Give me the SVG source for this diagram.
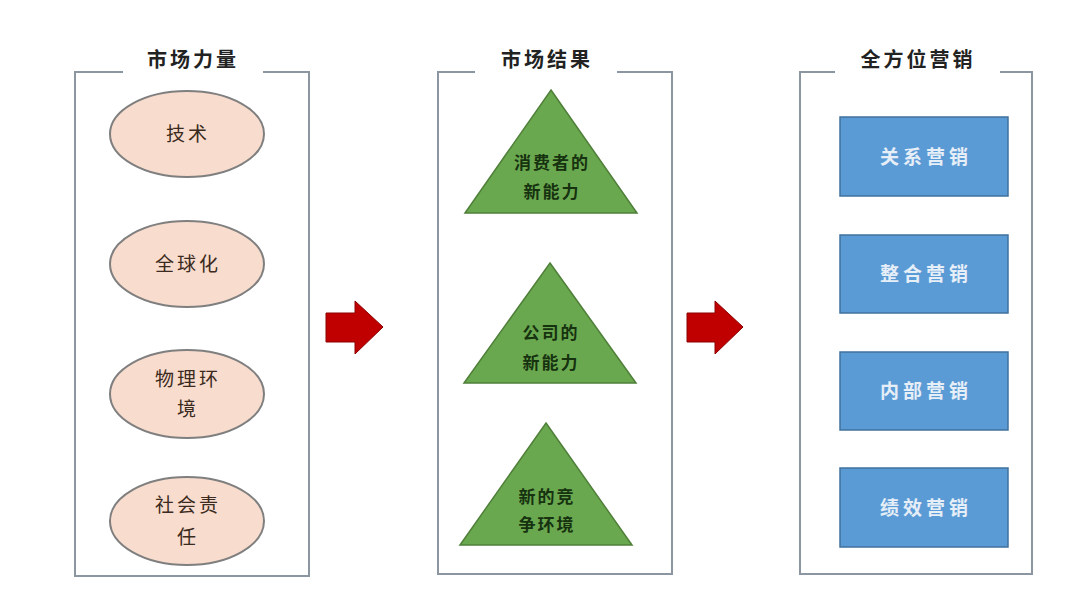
<svg xmlns="http://www.w3.org/2000/svg" width="1080" height="592" viewBox="0 0 1080 592">
<style>
.frame{fill:none;stroke:#8c96a0;stroke-width:2}
.title{font-family:"Noto Sans CJK SC",sans-serif;font-size:20px;font-weight:bold;fill:#222;text-anchor:middle;letter-spacing:3px}
.ell{fill:#f8dccd;stroke:#7f7f7f;stroke-width:2}
.etxt{font-family:"Noto Sans CJK SC",sans-serif;font-size:19px;fill:#3a2a20;text-anchor:middle;letter-spacing:3px}
.tri{fill:#6aa84f;stroke:#4f7f39;stroke-width:1.5}
.ttxt{font-family:"Noto Sans CJK SC",sans-serif;font-size:17px;font-weight:bold;fill:#16320f;text-anchor:middle;letter-spacing:2px}
.box{fill:#5b9bd5;stroke:#41719c;stroke-width:1.5}
.btxt{font-family:"Noto Sans CJK SC",sans-serif;font-size:19px;font-weight:bold;fill:#e6eef8;text-anchor:middle;letter-spacing:4px}
.arrow{fill:#c00000;stroke:#8b0000;stroke-width:1}
</style>
<rect width="1080" height="592" fill="#ffffff"/>
<g id="panel-forces">
<path class="frame" d="M123 72 H75 V576 H309 V72 H263"/>
<text class="title" x="193" y="67">市场力量</text>
</g>
<g id="panel-results">
<path class="frame" d="M475 72 H438 V574 H672 V72 H617"/>
<text class="title" x="547" y="67">市场结果</text>
</g>
<g id="panel-holistic">
<path class="frame" d="M835 72 H800 V574 H1032 V72 H1000"/>
<text class="title" x="918" y="67">全方位营销</text>
</g>
<g id="node-tech"><ellipse class="ell" cx="187" cy="134" rx="77" ry="43"/><text class="etxt" x="188" y="141">技术</text></g>
<g id="node-global"><ellipse class="ell" cx="187" cy="264" rx="77" ry="43"/><text class="etxt" x="188" y="271">全球化</text></g>
<g id="node-physical"><ellipse class="ell" cx="187" cy="394" rx="77" ry="44"/><text class="etxt" x="188" y="386">物理环</text><text class="etxt" x="188" y="416">境</text></g>
<g id="node-social"><ellipse class="ell" cx="187" cy="521" rx="77" ry="44"/><text class="etxt" x="188" y="512">社会责</text><text class="etxt" x="188" y="544">任</text></g>
<g id="node-consumer"><polygon class="tri" points="551,90 637,213 465,213"/><text class="ttxt" x="552" y="169">消费者的</text><text class="ttxt" x="552" y="198">新能力</text></g>
<g id="node-company"><polygon class="tri" points="550,263 636,383 464,383"/><text class="ttxt" x="551" y="339">公司的</text><text class="ttxt" x="551" y="369">新能力</text></g>
<g id="node-competition"><polygon class="tri" points="546,423 632,545 460,545"/><text class="ttxt" x="547" y="503">新的竞</text><text class="ttxt" x="547" y="531">争环境</text></g>
<g id="node-relationship"><rect class="box" x="840" y="117" width="168" height="79"/><text class="btxt" x="926" y="164">关系营销</text></g>
<g id="node-integrated"><rect class="box" x="840" y="235" width="168" height="78"/><text class="btxt" x="926" y="281">整合营销</text></g>
<g id="node-internal"><rect class="box" x="840" y="352" width="168" height="78"/><text class="btxt" x="926" y="398">内部营销</text></g>
<g id="node-performance"><rect class="box" x="840" y="468" width="168" height="79"/><text class="btxt" x="926" y="515">绩效营销</text></g>
<g id="connectors">
<polygon class="arrow" points="326,313 355,313 355,301 383,327 355,354 355,342 326,342"/>
<polygon class="arrow" points="687,313 715,313 715,301 743,327 715,354 715,342 687,342"/>
</g>
</svg>
